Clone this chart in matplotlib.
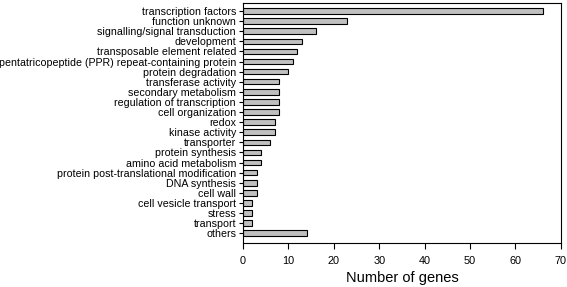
import matplotlib.pyplot as plt

categories = ['transcription factors', 'function unknown', 'signalling/signal transduction',
              'development', 'transposable element related',
              'pentatricopeptide (PPR) repeat-containing protein', 'protein degradation',
              'transferase activity', 'secondary metabolism', 'regulation of transcription',
              'cell organization', 'redox', 'kinase activity', 'transporter',
              'protein synthesis', 'amino acid metabolism',
              'protein post-translational modification', 'DNA synthesis', 'cell wall',
              'cell vesicle transport', 'stress', 'transport', 'others']
counts = [66, 23, 16, 13, 12, 11, 10, 8, 8, 8, 8, 7, 7, 6, 4, 4, 3, 3, 3, 2, 2, 2, 14]
xticks = [0, 10, 20, 30, 40, 50, 60, 70]

plt.rcParams['font.family'] = ['Liberation Sans', 'DejaVu Sans']

fig = plt.figure(figsize=(5.67, 2.87), dpi=100)
ax = fig.add_axes([0.4286, 0.152, 0.5604, 0.8375])

pos = list(range(len(categories)))
ax.barh(pos, counts, height=0.55, color='#c0c0c0', edgecolor='black', linewidth=0.8)
ax.set_yticks(pos)
ax.set_yticklabels(categories, fontsize=7.7)
ax.set_ylim(len(categories) - 1 + 1.0, -0.79)
ax.set_xlim(0, 70)
ax.set_xticks(xticks)
ax.tick_params(axis='x', labelsize=7.8, length=4, width=0.8, pad=5)
ax.tick_params(axis='y', length=3, width=0.8, pad=2)
ax.set_xlabel('Number of genes', fontsize=10.5, labelpad=4)
for s in ax.spines.values():
    s.set_linewidth(0.8)

fig.savefig('out.png', dpi=100)
